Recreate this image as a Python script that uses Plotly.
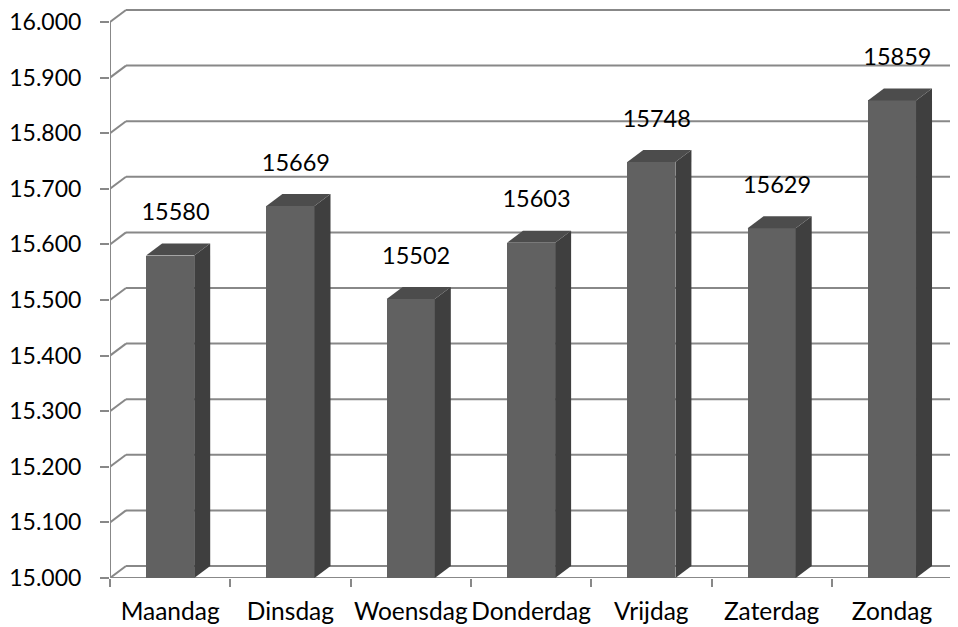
import plotly.graph_objects as go

days = ["Maandag", "Dinsdag", "Woensdag", "Donderdag", "Vrijdag", "Zaterdag", "Zondag"]
values = [15580, 15669, 15502, 15603, 15748, 15629, 15859]
y_ticks = [15000, 15100, 15200, 15300, 15400, 15500, 15600, 15700, 15800, 15900, 16000]

Y_MIN = 15000
Y_MAX = 16025.2
X_MIN, X_MAX = -0.5, 6.549
DX = 0.133      # depth offset in x units
DY = 21.6       # depth offset in y units
HW = 0.2        # half bar width
GRID = "#888888"
FRONT = "#616161"
SIDE = "#3f3f3f"
TOP = "#4c4c4c"
FONT = "Lato, 'Open Sans', sans-serif"

xs = list(range(len(days)))

fig = go.Figure()

# front faces
fig.add_trace(go.Bar(x=xs, y=[v - Y_MIN for v in values], base=Y_MIN, width=2 * HW,
                     marker=dict(color=FRONT, line=dict(width=0)), hoverinfo="skip",
                     showlegend=False))

# side and top faces
for c, v in zip(xs, values):
    fig.add_trace(go.Scatter(
        x=[c + HW, c + HW + DX, c + HW + DX, c + HW, c + HW],
        y=[Y_MIN, Y_MIN + DY, v + DY, v, Y_MIN],
        fill="toself", fillcolor=SIDE, mode="lines", line=dict(width=0, color=SIDE),
        hoverinfo="skip", showlegend=False))
    fig.add_trace(go.Scatter(
        x=[c - HW, c - HW + DX, c + HW + DX, c + HW, c - HW],
        y=[v, v + DY, v + DY, v, v],
        fill="toself", fillcolor=TOP, mode="lines", line=dict(width=0, color=TOP),
        hoverinfo="skip", showlegend=False))

# data labels
fig.add_trace(go.Scatter(
    x=[c + 0.045 for c in xs], y=[v + 74 for v in values],
    text=[str(v) for v in values], mode="text", textposition="middle center",
    textfont=dict(family=FONT, size=23.5, color="#000000"),
    hoverinfo="skip", showlegend=False, cliponaxis=False))

# back wall gridlines (with diagonal connectors), floor and axis line
shapes = []
for t in y_ticks:
    shapes.append(dict(type="line", xref="x", yref="y", x0=X_MIN, y0=t, x1=X_MIN + DX, y1=t + DY,
                       line=dict(color=GRID, width=2), layer="below"))
    shapes.append(dict(type="line", xref="x", yref="y", x0=X_MIN + DX, y0=t + DY, x1=X_MAX + 1, y1=t + DY,
                       line=dict(color=GRID, width=2), layer="below"))
shapes.append(dict(type="line", xref="x", yref="y", x0=X_MIN, y0=Y_MIN, x1=len(days) - 0.5, y1=Y_MIN,
                   line=dict(color=GRID, width=2), layer="below"))
shapes.append(dict(type="line", xref="x", yref="y", x0=len(days) - 0.5, y0=Y_MIN,
                   x1=len(days) - 0.5 + DX, y1=Y_MIN + DY,
                   line=dict(color=GRID, width=2), layer="below"))
shapes.append(dict(type="line", xref="x", yref="y", x0=X_MIN, y0=Y_MIN, x1=X_MIN, y1=y_ticks[-1],
                   line=dict(color=GRID, width=2), layer="below"))

fig.update_layout(
    width=950, height=619,
    margin=dict(l=102, r=0, t=0, b=49, autoexpand=False),
    paper_bgcolor="white", plot_bgcolor="white",
    separators=",.",
    bargap=0,
    shapes=shapes,
    font=dict(family=FONT, size=22, color="#000000"),
    xaxis=dict(range=[X_MIN, X_MAX], tickmode="array",
               tickvals=[i - 0.5 for i in range(len(days) + 1)],
               ticktext=[""] * (len(days) + 1),
               ticks="outside", ticklen=8, tickwidth=2, tickcolor=GRID, automargin=False,
               showgrid=False, zeroline=False, showline=False, fixedrange=True),
    xaxis2=dict(range=[X_MIN, X_MAX], overlaying="x", anchor="y", side="bottom",
                tickmode="array", tickvals=xs, ticktext=days, ticks="",
                ticklabelstandoff=16, automargin=False, ticklabeloverflow="allow",
                tickfont=dict(family=FONT, size=24.5, color="#000000"),
                showgrid=False, zeroline=False, showline=False, fixedrange=True),
    yaxis=dict(range=[Y_MIN, Y_MAX], tickmode="array", tickvals=y_ticks,
               tickformat=",.0f", ticks="outside", ticklen=9, tickwidth=2, tickcolor=GRID,
               ticklabelstandoff=14, automargin=False, ticklabeloverflow="allow",
               tickfont=dict(family=FONT, size=23, color="#000000"),
               showgrid=False, zeroline=False, showline=False, fixedrange=True),
)
# dummy trace to render xaxis2
fig.add_trace(go.Scatter(x=[0], y=[Y_MIN], xaxis="x2", mode="markers",
                         marker=dict(opacity=0), hoverinfo="skip", showlegend=False))

fig.write_html("out.html")
